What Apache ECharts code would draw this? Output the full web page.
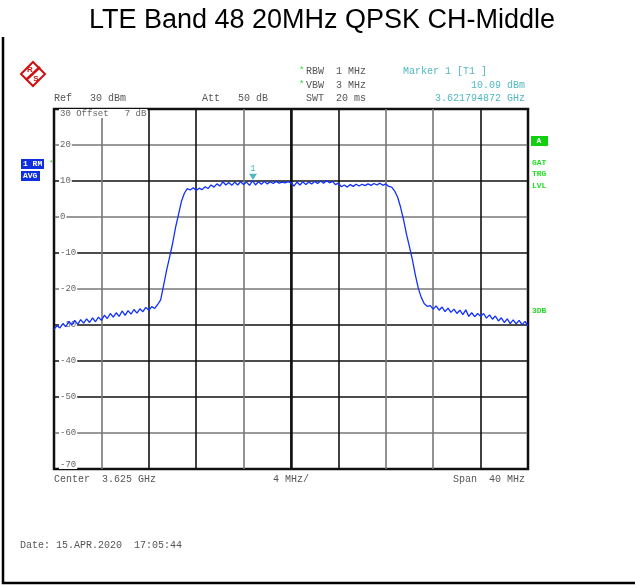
<!DOCTYPE html>
<html>
<head>
<meta charset="utf-8">
<script src="https://cdn.jsdelivr.net/npm/echarts@6/dist/echarts.min.js"></script>
<style>
html,body{margin:0;padding:0;background:#fff;}
#chart{width:635px;height:585px;}
</style>
</head>
<body>
<div id="chart"></div>
<script>
// Frequency offset from centre (MHz), centre 3.625 GHz, span 40 MHz
var freqOffsetMHz = [
-20,-19.75,-19.5,-19.25,-19,-18.75,-18.5,-18.25,-18,-17.75,-17.5,-17.25,-17,-16.75,-16.5,-16.25,
-16,-15.75,-15.5,-15.25,-15,-14.75,-14.5,-14.25,-14,-13.75,-13.5,-13.25,-13,-12.75,-12.5,-12.25,
-12,-11.75,-11.5,-11.25,-11,-10.75,-10.5,-10.25,-10,-9.75,-9.5,-9.25,-9,-8.75,-8.5,-8.25,
-8,-7.75,-7.5,-7.25,-7,-6.75,-6.5,-6.25,-6,-5.75,-5.5,-5.25,-5,-4.75,-4.5,-4.25,
-4,-3.75,-3.5,-3.25,-3,-2.75,-2.5,-2.25,-2,-1.75,-1.5,-1.25,-1,-0.75,-0.5,-0.25,
0,0.25,0.5,0.75,1,1.25,1.5,1.75,2,2.25,2.5,2.75,3,3.25,3.5,3.75,
4,4.25,4.5,4.75,5,5.25,5.5,5.75,6,6.25,6.5,6.75,7,7.25,7.5,7.75,
8,8.25,8.5,8.75,9,9.25,9.5,9.75,10,10.25,10.5,10.75,11,11.25,11.5,11.75,
12,12.25,12.5,12.75,13,13.25,13.5,13.75,14,14.25,14.5,14.75,15,15.25,15.5,15.75,
16,16.25,16.5,16.75,17,17.25,17.5,17.75,18,18.25,18.5,18.75,19,19.25,19.5,19.75,20
];
// Trace level (dBm)
var levelDbm = [
-31.2,-30.2,-30.8,-29.6,-30.5,-29.0,-30.0,-28.7,-29.8,-28.5,-29.5,-28.3,-29.3,-28.0,-29.1,-27.8,
-28.7,-27.3,-28.2,-26.8,-27.8,-26.6,-27.6,-26.1,-27.3,-26.0,-27.0,-25.7,-26.7,-25.5,-26.3,-25.1,
-25.9,-24.9,-25.4,-24.3,-23.0,-19.0,-14.8,-11.2,-7.5,-3.0,0.6,4.3,6.6,7.9,7.5,8.1,
7.4,8.0,7.6,8.4,7.9,8.9,8.3,9.2,8.6,9.8,8.9,9.6,8.8,9.7,8.9,9.8,
9.0,9.7,8.8,10.1,8.9,9.8,9.1,9.9,9.2,9.8,9.3,9.9,9.4,9.7,9.5,9.8,
9.5,8.6,9.7,8.9,9.8,9.0,9.7,9.2,9.9,9.3,10.0,9.4,10.1,9.5,9.9,9.0,
9.4,8.4,8.9,8.3,9.0,8.5,9.1,8.6,9.1,8.7,9.2,8.8,9.3,8.9,9.4,8.8,
9.2,8.5,8.3,7.2,5.5,2.7,-0.8,-4.8,-8.3,-12.0,-16.2,-19.9,-22.4,-24.1,-24.8,-24.6,
-25.6,-24.7,-25.9,-25.0,-26.3,-25.3,-26.5,-25.6,-26.8,-25.9,-27.1,-25.8,-27.6,-26.6,-27.7,-26.8,
-27.6,-26.8,-28.1,-27.2,-28.4,-27.5,-28.9,-28.0,-29.3,-28.3,-29.6,-28.6,-29.7,-28.7,-29.9,-29.0,-30.3
];
var yTicks = [-70,-60,-50,-40,-30,-20,-10,0,10,20,30];
var markerFreq = -3.205128;  // 3.621794872 GHz
var markerLevel = 10.09;

var mono = 'Liberation Mono, DejaVu Sans Mono, monospace';
var traceData = freqOffsetMHz.map(function (f, i) { return [f, levelDbm[i]]; });

function txt(x, y, s, opt) {
  opt = opt || {};
  var a = opt.align || 'left';
  return {
    type: 'text', x: x, y: y, z: 10,
    style: {
      text: s,
      font: (opt.weight || 'normal') + ' ' + (opt.size || 10) + 'px ' + (opt.family || mono),
      fill: opt.color || '#555',
      align: a, textAlign: a,
      verticalAlign: 'middle', textVerticalAlign: 'middle'
    }
  };
}
var cyan = '#4fb8bf';
var green = '#22dd22';

var chart = echarts.init(document.getElementById('chart'), null, {renderer: 'canvas'});
chart.setOption({
  animation: false,
  backgroundColor: '#fff',
  grid: {left: 54, top: 109, right: 107, bottom: 116, show: true, borderColor: '#111', borderWidth: 2.5, backgroundColor: 'transparent'},
  xAxis: {
    type: 'value', min: -20, max: 20, interval: 4,
    axisLine: {show: false}, axisTick: {show: false}, axisLabel: {show: false},
    splitLine: {show: true, lineStyle: {width: 1.6, color: ['#111', '#777', '#111', '#111', '#777', '#111', '#111', '#777', '#777', '#111', '#111']}}
  },
  yAxis: {
    type: 'value', min: -70, max: 30, interval: 10,
    axisLine: {show: false}, axisTick: {show: false},
    axisLabel: {
      inside: true, margin: 5, color: '#666', fontFamily: mono, fontSize: 9,
      backgroundColor: '#fff', padding: [0, 1],
      verticalAlignMinLabel: 'bottom', verticalAlignMaxLabel: 'top',
      formatter: function (v) { return v === 30 ? '30 Offset   7 dB' : String(v); }
    },
    splitLine: {show: true, lineStyle: {width: 1.6, color: ['#111', '#777', '#111', '#111', '#111', '#777', '#111', '#777', '#111', '#777', '#111']}}
  },
  series: [{
    type: 'line', data: traceData, showSymbol: false, symbol: 'none',
    lineStyle: {color: '#1030ff', width: 1.3},
    z: 5,
    markLine: {
      silent: true, symbol: 'none', label: {show: false},
      lineStyle: {color: '#111', width: 2.5, type: 'solid'},
      data: [{xAxis: 0}]
    },
    markPoint: {
      symbol: 'triangle', symbolRotate: 180, symbolSize: [8, 6], symbolOffset: [0, -4],
      itemStyle: {color: cyan},
      label: {show: true, position: 'top', distance: 1, formatter: '1', color: cyan, fontFamily: mono, fontSize: 9},
      data: [{coord: [markerFreq, markerLevel]}]
    }
  }],
  graphic: [
    // outer frame
    {type: 'polyline', shape: {points: [[3, 37], [3, 583], [635, 583]]}, style: {stroke: '#000', lineWidth: 2.5, fill: null}},
    // title
    txt(322, 21, 'LTE Band 48 20MHz QPSK CH-Middle', {size: 27, family: 'Liberation Sans, Arial, sans-serif', color: '#000', align: 'center'}),
    // R&S logo
    {type: 'polygon', shape: {points: [[33, 62], [45, 74], [33, 86], [21, 74]]}, style: {stroke: '#d01010', lineWidth: 2, fill: '#fff'}},
    {type: 'line', shape: {x1: 26, y1: 80, x2: 40, y2: 67}, style: {stroke: '#d01010', lineWidth: 2.5}},
    txt(30, 70, 'R', {size: 8, color: '#d01010', weight: 'bold', family: 'Liberation Sans, sans-serif', align: 'center'}),
    txt(36, 79, 'S', {size: 8, color: '#d01010', weight: 'bold', family: 'Liberation Sans, sans-serif', align: 'center'}),
    // header
    txt(54, 98, 'Ref   30 dBm'),
    txt(202, 98, 'Att   50 dB'),
    txt(299, 71, '*', {color: green, size: 9}),
    txt(306, 71, 'RBW  1 MHz'),
    txt(299, 85, '*', {color: green, size: 9}),
    txt(306, 85, 'VBW  3 MHz'),
    txt(306, 98, 'SWT  20 ms'),
    txt(403, 71, 'Marker 1 [T1 ]', {color: cyan}),
    txt(525, 85, '10.09 dBm', {color: cyan, align: 'right'}),
    txt(525, 98, '3.621794872 GHz', {color: cyan, align: 'right'}),
    // left side boxes
    {type: 'rect', shape: {x: 21, y: 159, width: 23, height: 10}, style: {fill: '#1030e0'}},
    txt(23, 164, '1 RM', {color: '#fff', size: 8, weight: 'bold'}),
    txt(49, 163, '*', {color: green, size: 8}),
    {type: 'rect', shape: {x: 21, y: 171, width: 19, height: 10}, style: {fill: '#1030e0'}},
    txt(23, 176, 'AVG', {color: '#fff', size: 8, weight: 'bold'}),
    // right side
    {type: 'rect', shape: {x: 531, y: 136, width: 17, height: 10}, style: {fill: '#10d010'}},
    txt(539, 141, 'A', {color: '#fff', size: 8, weight: 'bold', align: 'center'}),
    txt(532, 163, 'GAT', {color: green, size: 8, weight: 'bold'}),
    txt(532, 174, 'TRG', {color: green, size: 8, weight: 'bold'}),
    txt(532, 186, 'LVL', {color: green, size: 8, weight: 'bold'}),
    txt(532, 311, '3DB', {color: green, size: 8, weight: 'bold'}),
    // bottom
    txt(54, 479, 'Center  3.625 GHz'),
    txt(273, 479, '4 MHz/'),
    txt(525, 479, 'Span  40 MHz', {align: 'right'}),
    txt(20, 545, 'Date: 15.APR.2020  17:05:44')
  ]
});
</script>
</body>
</html>
